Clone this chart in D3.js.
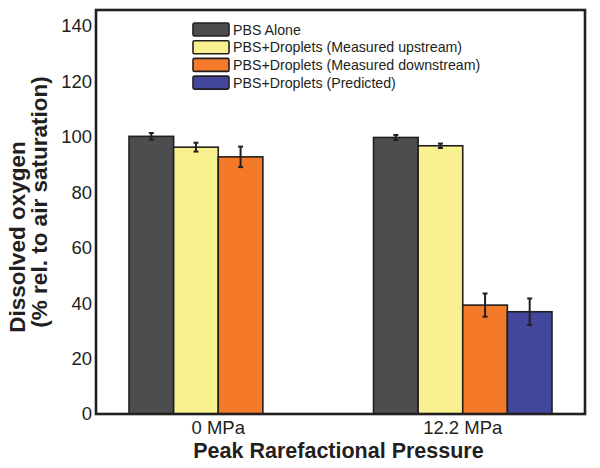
<!DOCTYPE html>
<html>
<head>
<meta charset="utf-8">
<script src="https://cdn.jsdelivr.net/npm/d3@7"></script>
<style>
  body { margin: 0; background: #fff; }
  svg { display: block; font-family: "Liberation Sans", Arial, sans-serif; }
</style>
</head>
<body>
<div id="chart"></div>
<script>
// data
const groups = ["0 MPa", "12.2 MPa"];
const seriesNames = [
  "PBS Alone",
  "PBS+Droplets (Measured upstream)",
  "PBS+Droplets (Measured downstream)",
  "PBS+Droplets (Predicted)"
];
const seriesColors = ["#4d4d4f", "#f9f18f", "#f47a29", "#43479b"];
// values per group, per series (null = no bar)
const means0 = [100.2, 96.3, 92.8, null];
const means1 = [99.8, 96.8, 39.3, 36.9];
const errs0 = [1.2, 1.6, 3.7, null];
const errs1 = [0.9, 0.8, 4.2, 4.8];
const yTicks = [0, 20, 40, 60, 80, 100, 120, 140];

const W = 600, H = 468;
const margin = { top: 10, right: 15, bottom: 54, left: 96 };
const width = W - margin.left - margin.right,
  height = H - margin.top - margin.bottom;

const svg = d3.select("#chart").append("svg")
  .attr("width", W).attr("height", H);
const g = svg.append("g")
  .attr("transform", `translate(${margin.left},${margin.top})`);

const x0 = d3.scaleBand().domain(groups).range([0, width])
  .paddingInner(0.27).paddingOuter(0.135);
const x1 = d3.scaleBand().domain(d3.range(seriesNames.length))
  .range([0, x0.bandwidth()]);
const y = d3.scaleLinear().domain([0, 145.8]).range([height, 0]);

const rows = [];
[[means0, errs0], [means1, errs1]].forEach(([m, e], gi) => {
  m.forEach((v, si) => {
    if (v !== null) rows.push({ group: groups[gi], s: si, v: v, e: e[si] });
  });
});

// bars
g.selectAll("rect.bar").data(rows).join("rect")
  .attr("class", "bar")
  .attr("x", d => x0(d.group) + x1(d.s))
  .attr("y", d => y(d.v))
  .attr("width", x1.bandwidth())
  .attr("height", d => y(0) - y(d.v))
  .attr("fill", d => seriesColors[d.s])
  .attr("stroke", "#231f20")
  .attr("stroke-width", 1.6);

// error bars
const eb = g.selectAll("g.err").data(rows).join("g").attr("class", "err")
  .attr("stroke", "#231f20").attr("stroke-width", 2);
const cx = d => x0(d.group) + x1(d.s) + x1.bandwidth() / 2;
eb.append("line")
  .attr("x1", cx).attr("x2", cx)
  .attr("y1", d => y(d.v - d.e)).attr("y2", d => y(d.v + d.e));
[-1, 1].forEach(sg => {
  eb.append("line")
    .attr("x1", d => cx(d) - 2.5).attr("x2", d => cx(d) + 2.5)
    .attr("y1", d => y(d.v + sg * d.e)).attr("y2", d => y(d.v + sg * d.e));
});

// y axis labels (no tick marks)
const yAxis = g.append("g")
  .call(d3.axisLeft(y).tickValues(yTicks).tickSize(0).tickPadding(4));
yAxis.select(".domain").remove();
yAxis.selectAll("text")
  .attr("font-size", 18.5).attr("fill", "#231f20")
  .attr("font-family", "Liberation Sans, Arial, sans-serif");

// x axis labels
const xAxis = g.append("g").attr("transform", `translate(0,${height})`)
  .call(d3.axisBottom(x0).tickSize(0).tickPadding(7));
xAxis.select(".domain").remove();
xAxis.selectAll("text")
  .attr("font-size", 18.5).attr("fill", "#231f20")
  .attr("font-family", "Liberation Sans, Arial, sans-serif");

// frame
g.append("rect")
  .attr("x", 0).attr("y", 0).attr("width", width).attr("height", height)
  .attr("fill", "none").attr("stroke", "#231f20").attr("stroke-width", 2.6);

// axis titles
svg.append("text")
  .attr("x", margin.left + width / 2 - 2).attr("y", 458)
  .attr("text-anchor", "middle").attr("font-weight", "bold")
  .attr("font-size", 21.5).attr("fill", "#231f20")
  .text("Peak Rarefactional Pressure");

svg.append("text")
  .attr("transform", "translate(25,237) rotate(-90)")
  .attr("text-anchor", "middle").attr("font-weight", "bold")
  .attr("font-size", 22.5).attr("fill", "#231f20")
  .text("Dissolved oxygen");
svg.append("text")
  .attr("transform", "translate(47,202) rotate(-90)")
  .attr("text-anchor", "middle").attr("font-weight", "bold")
  .attr("font-size", 22.5).attr("fill", "#231f20")
  .text("(% rel. to air saturation)");

// legend
const leg = svg.append("g").attr("transform", "translate(193,23)");
const li = leg.selectAll("g").data(seriesNames).join("g")
  .attr("transform", (d, i) => `translate(0,${i * 17.7})`);
li.append("rect")
  .attr("width", 36).attr("height", 13).attr("rx", 1.5)
  .attr("fill", (d, i) => seriesColors[i])
  .attr("stroke", "#231f20").attr("stroke-width", 1.6);
li.append("text")
  .attr("x", 40).attr("y", 11.5)
  .attr("font-size", 14.2).attr("fill", "#231f20")
  .text(d => d);
</script>
</body>
</html>
